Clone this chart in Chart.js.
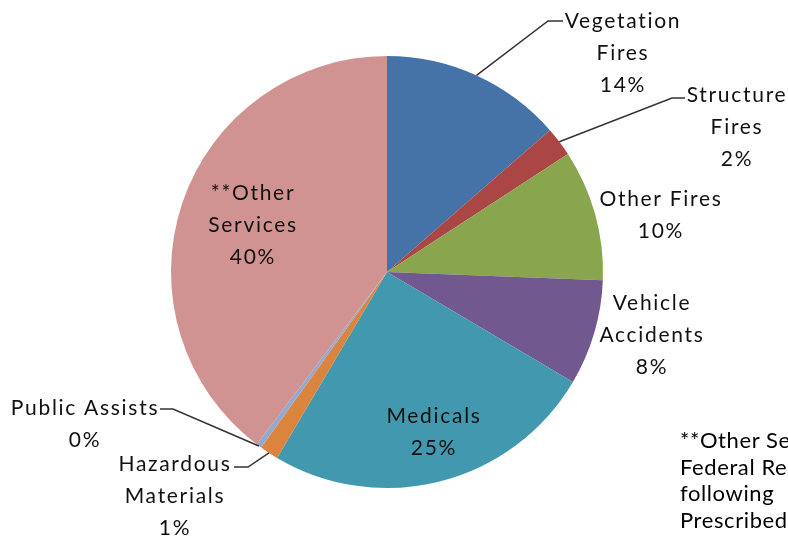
<!DOCTYPE html>
<html>
<head>
<meta charset="utf-8">
<script src="https://cdn.jsdelivr.net/npm/chart.js@4"></script>
<style>
    html, body { margin: 0; padding: 0; background: #fff; overflow: hidden; }
    #wrap { position: relative; width: 788px; height: 538px; }
    #note {
        position: absolute; left: 680px; top: 427px; width: 300px;
        font-family: Lato, "Open Sans", sans-serif; font-size: 22px;
        letter-spacing: 0.6px; line-height: 26.7px; color: #000; white-space: nowrap;
    }
</style>
</head>
<body>
<div id="wrap">
    <canvas id="pieChart" width="788" height="538"></canvas>
    <div id="note">**Other Services<br>Federal Response<br>following<br>Prescribed</div>
</div>
<script>
const categories = [
    ["Vegetation", "Fires"],
    ["Structure", "Fires"],
    ["Other Fires"],
    ["Vehicle", "Accidents"],
    ["Medicals"],
    ["Hazardous", "Materials"],
    ["Public Assists"],
    ["**Other", "Services"]
];
const shares = [13.6, 2.2, 9.8, 7.9, 25.0, 1.4, 0.4, 39.7];
const colors = ["#4572A7", "#AA4643", "#89A54E", "#71588F", "#4198AF", "#DB843D", "#93A9CF", "#D19392"];

// label placement, relative to the pie centre (dx, dy of the text block centre)
// elbow/end are the bend and end points of the leader line
const labelPos = [
    { dx: 235, dy: -219, elbow: [161, -251], end: [176, -251] },
    { dx: 349, dy: -145, elbow: [285, -174], end: [298, -174] },
    { dx: 273, dy: -57 },
    { dx: 264, dy: 63 },
    { dx: 46, dy: 160 },
    { dx: -213, dy: 224, elbow: [-139, 195], end: [-153, 195] },
    { dx: -303, dy: 152, elbow: [-214, 137], end: [-227, 137] },
    { dx: -135, dy: -47 }
];

const lineH = 32;

const pieLabels = {
    id: "pieLabels",
    afterDraw(chart) {
        const c = chart.ctx;
        const meta = chart.getDatasetMeta(0);
        const total = shares.reduce((a, b) => a + b, 0);
        c.save();
        c.font = "21px Lato, 'Open Sans', sans-serif";
        c.letterSpacing = "1.7px";
        c.fillStyle = "#111";
        c.textAlign = "center";
        c.textBaseline = "middle";
        meta.data.forEach((arc, i) => {
            const p = labelPos[i];
            const cx = arc.x, cy = arc.y;
            if (p.elbow) {
                const mid = (arc.startAngle + arc.endAngle) / 2;
                const sx = cx + Math.cos(mid) * arc.outerRadius;
                const sy = cy + Math.sin(mid) * arc.outerRadius;
                c.beginPath();
                c.strokeStyle = "#333";
                c.lineWidth = 1.5;
                c.moveTo(sx, sy);
                c.lineTo(cx + p.elbow[0], cy + p.elbow[1]);
                c.lineTo(cx + p.end[0], cy + p.end[1]);
                c.stroke();
            }
            const lines = categories[i].concat([Math.round(shares[i] / total * 100) + "%"]);
            const top = cy + p.dy - (lines.length - 1) * lineH / 2;
            lines.forEach((t, k) => {
                c.fillText(t, cx + p.dx + 1, top + k * lineH);
            });
        });
        c.restore();
    }
};

new Chart(document.getElementById("pieChart"), {
    type: "pie",
    data: {
        labels: categories,
        datasets: [{
            data: shares,
            backgroundColor: colors,
            borderWidth: 0
        }]
    },
    options: {
        responsive: false,
        animation: false,
        layout: {
            padding: { left: 171, right: 185, top: 56, bottom: 50 }
        },
        plugins: {
            legend: { display: false },
            tooltip: { enabled: false }
        }
    },
    plugins: [pieLabels]
});
</script>
</body>
</html>
